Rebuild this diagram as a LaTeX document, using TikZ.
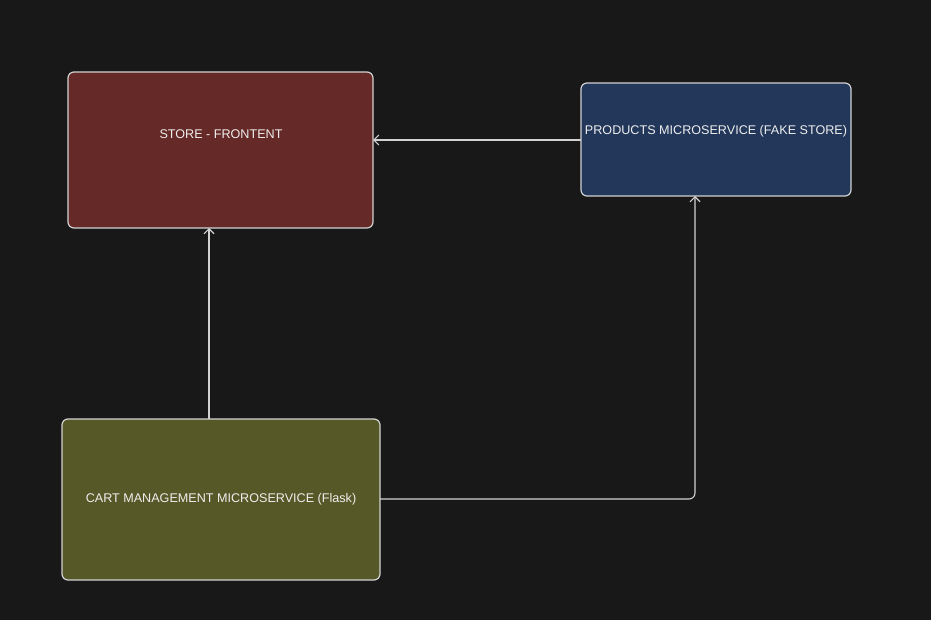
\documentclass[tikz,border=0pt]{standalone}
\usepackage{fontspec}
\setmainfont{Liberation Sans}
\usetikzlibrary{arrows.meta}
\definecolor{bg}{HTML}{181818}
\definecolor{edge}{HTML}{D2D2D2}
\definecolor{storefill}{HTML}{652A27}
\definecolor{prodfill}{HTML}{22375A}
\definecolor{cartfill}{HTML}{575827}
\definecolor{txt}{HTML}{EEEEEE}
\tikzset{
  svcbox/.style={draw=edge, line width=1.2pt, rounded corners=6pt},
  lbl/.style={text=txt, font=\fontsize{12.6}{14}\selectfont, inner sep=0pt},
  conn/.style={draw=edge, line width=1.1pt, -{Straight Barb[length=5pt,width=10pt,line width=1.1pt]}, rounded corners=6pt}
}
\begin{document}
\begin{tikzpicture}[x=1pt,y=-1pt]
\fill[bg] (0,0) rectangle (931,620);
\useasboundingbox (0,0) rectangle (931,620);
% boxes
\draw[svcbox, fill=storefill] (68,72) rectangle (373,228);
\draw[svcbox, fill=prodfill] (581,83) rectangle (851,196);
\draw[svcbox, fill=cartfill] (62,419) rectangle (380,580);
\coordinate (storeR) at (373,140);
\coordinate (storeB) at (209,228);
\coordinate (prodL) at (581,140);
\coordinate (prodB) at (695,196);
\coordinate (cartT) at (209,419);
\coordinate (cartR) at (380,499);
\node[lbl] (storelbl) at (221,134) {STORE - FRONTENT};
\node[lbl] (prodlbl) at (716,131.5) {PRODUCTS MICROSERVICE (FAKE STORE)};
\node[lbl] (cartlbl) at (221,499.5) {CART MANAGEMENT MICROSERVICE (Flask)};
% connectors
\draw[conn] (prodL) -- (storeR);
\draw[conn] (cartT) -- (storeB);
\draw[conn] (cartR) -| (prodB);
\end{tikzpicture}
\end{document}
